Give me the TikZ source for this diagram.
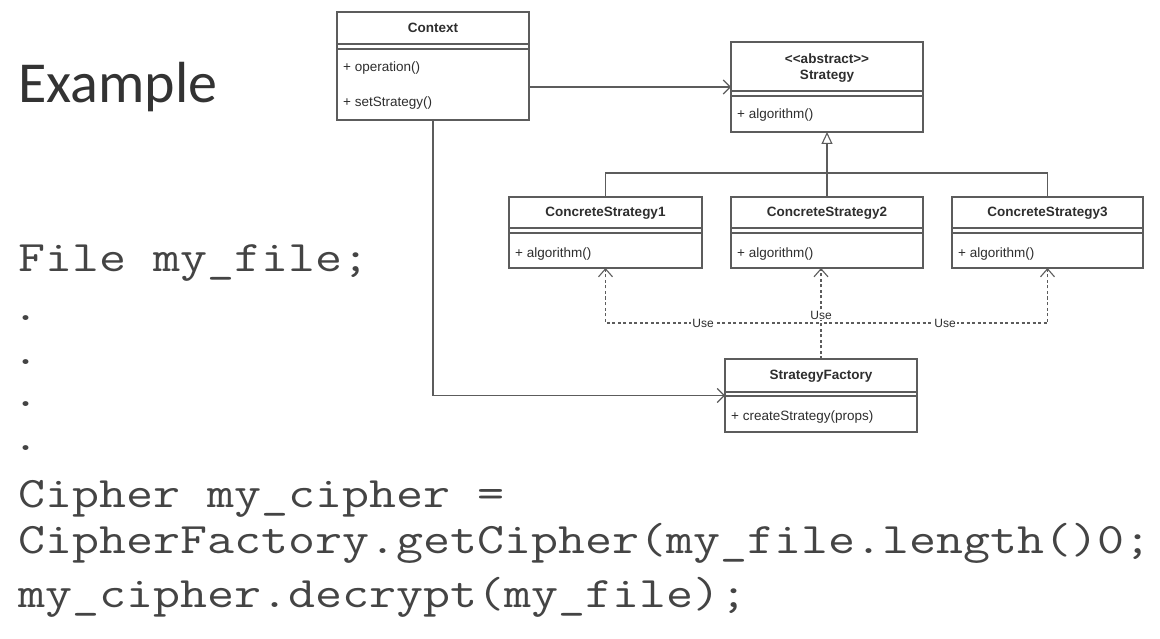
\documentclass[tikz,border=0pt]{standalone}
\usepackage{fontspec}
\usepackage{graphicx}
\setmainfont{Liberation Sans}
\newfontfamily\titlefont{Carlito}
\usetikzlibrary{arrows.meta}
\definecolor{linegray}{HTML}{5C5C5C}
\definecolor{txt}{HTML}{2E2E2E}
\definecolor{codetxt}{HTML}{444444}
\newcommand{\codeln}[1]{\scalebox{1.205}[1]{#1}}
\begin{document}
\begin{tikzpicture}[x=1pt,y=-1pt,
  umlbox/.style={draw=linegray, line width=1.1pt, inner sep=0pt, outer sep=0pt, fill=white},
  utitle/.style={font=\fontsize{13.5}{15}\selectfont\bfseries, text=txt, inner sep=0pt, anchor=center},
  uop/.style={font=\fontsize{13.5}{15}\selectfont, text=txt, inner sep=0pt, anchor=west},
  sepline/.style={draw=linegray, line width=1.1pt},
  assoc/.style={draw=linegray, line width=1.1pt, -{Straight Barb[length=7pt,width=14pt]}},
  inh/.style={draw=linegray, line width=1.1pt, -{Triangle[open,length=12pt,width=11pt]}},
  dep/.style={draw=linegray, line width=1.1pt, dash pattern=on 3pt off 2.5pt, -{Straight Barb[length=8pt,width=14pt]}},
  uselbl/.style={font=\fontsize{12}{14}\selectfont, text=txt, fill=white, inner sep=1pt},
  code/.style={font=\ttfamily\fontsize{43.5}{50}\selectfont, text=codetxt, anchor=base west, inner sep=0pt}
]
\useasboundingbox (0,0) rectangle (1160,639);
\fill[white] (0,0) rectangle (1160,639);

% Title
\node[font=\titlefont\fontsize{58}{64}\selectfont, text=black!80, anchor=base west, inner sep=0pt] (title) at (18,103) {Example};

% Code
\node[code] (l1) at (18,272) {\codeln{File my\_file;}};
\node[code] (d1) at (12,320) {\codeln{.}};
\node[code] (d2) at (12,364) {\codeln{.}};
\node[code] (d3) at (12,406) {\codeln{.}};
\node[code] (d4) at (12,450) {\codeln{.}};
\node[code] (l2) at (18,507) {\codeln{Cipher my\_cipher =}};
\node[code] (l3) at (18,553) {\codeln{CipherFactory.getCipher(my\_file.length()0;}};
\node[code] (l4) at (18,607) {\codeln{my\_cipher.decrypt(my\_file);}};

% UML boxes
\node[umlbox, minimum width=192pt, minimum height=108pt] (ctx) at (433,66) {};
\node[umlbox, minimum width=192pt, minimum height=90pt] (strat) at (827,87) {};
\node[umlbox, minimum width=193pt, minimum height=71pt] (cs1) at (605.5,232.5) {};
\node[umlbox, minimum width=192pt, minimum height=71pt] (cs2) at (827,232.5) {};
\node[umlbox, minimum width=191pt, minimum height=71pt] (cs3) at (1047.5,232.5) {};
\node[umlbox, minimum width=192pt, minimum height=73pt] (sf) at (821,395.5) {};

% separators
\foreach \b/\ya/\yb in {ctx/44/49, strat/91/96, cs1/228/233, cs2/228/233, cs3/228/233, sf/392/396}{
  \draw[sepline] (\b.west |- 0,\ya) -- (\b.east |- 0,\ya);
  \draw[sepline] (\b.west |- 0,\yb) -- (\b.east |- 0,\yb);
}

% texts
\node[utitle] (ctxt) at (433,28) {Context};
\node[uop] (ctxo1) at (343,68) {+ operation()};
\node[uop] (ctxo2) at (343,103) {+ setStrategy()};

\node[utitle] (strt1) at (827,59) {<\kern0pt<abstract>\kern0pt>};
\node[utitle] (strt2) at (827,76) {Strategy};
\node[uop] (stro) at (737,115) {+ algorithm()};

\node[utitle] (cs1t) at (605.5,213) {ConcreteStrategy1};
\node[uop] (cs1o) at (515,254) {+ algorithm()};
\node[utitle] (cs2t) at (827,213) {ConcreteStrategy2};
\node[uop] (cs2o) at (737,254) {+ algorithm()};
\node[utitle] (cs3t) at (1047.5,213) {ConcreteStrategy3};
\node[uop] (cs3o) at (958,254) {+ algorithm()};

\node[utitle] (sft) at (821,376) {StrategyFactory};
\node[uop] (sfo) at (731,417) {+ createStrategy(props)};

% connectors
\draw[assoc] (ctx.east |- strat.west) -- (strat.west);
\draw[assoc] (ctx.south) |- (sf.west);

\draw[sepline] (cs1.north) |- (cs3.north |- 0,173) -- (cs3.north);
\draw[inh] (cs2.north) -- (strat.south);

\coordinate (junc) at (sf.north |- 0,323);
\draw[dep] (sf.north) -- (junc) -| (cs1.south);
\draw[dep] (sf.north) -- (junc) -| (cs3.south);
\draw[dep] (sf.north) -- (sf.north |- cs2.south);

\node[uselbl] (u1) at (703,323) {Use};
\node[uselbl] (u2) at (945,323) {Use};
\node[uselbl] (u3) at (821,315) {Use};
\end{tikzpicture}
\end{document}
